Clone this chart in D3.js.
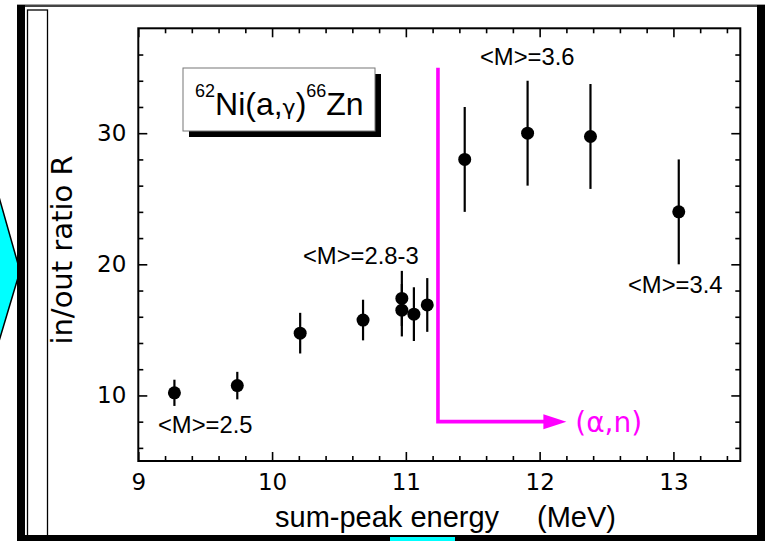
<!DOCTYPE html>
<html><head><meta charset="utf-8">
<script src="https://cdn.jsdelivr.net/npm/d3@7"></script>
<style>body{margin:0;background:#fff;} svg{display:block;}</style>
</head><body>
<svg id="c" width="765" height="541"></svg>
<script>
// ---- data ----
const energy   = [9.27, 9.74, 10.21, 10.68, 10.97, 10.97, 11.06, 11.16, 11.44, 11.91, 12.38, 13.04];
const ratio    = [10.2, 10.75, 14.75, 15.75, 17.4, 16.5, 16.2, 16.9, 28.0, 30.0, 29.75, 24.0];
const ratioErr = [1.0, 1.05, 1.55, 1.55, 2.1, 2.0, 2.05, 2.05, 4.0, 4.0, 4.0, 4.0];

const xMajorTicks = [9, 10, 11, 12, 13];
const xMinorTicks = [9.2, 9.4, 9.6, 9.8, 10.2, 10.4, 10.6, 10.8, 11.2, 11.4, 11.6, 11.8, 12.2, 12.4, 12.6, 12.8, 13.2, 13.4];
const yMajorTicks = [10, 20, 30];
const yMinorTicks = [6, 8, 12, 14, 16, 18, 22, 24, 26, 28, 32, 34, 36];

const multLabels = ["<M>=2.5", "<M>=2.8-3", "<M>=3.6", "<M>=3.4"];
const multE      = [9.147, 10.231, 11.554, 12.66];
const multR      = [7.17, 20.03, 35.2, 17.81];

const thresholdE = [11.24, 11.24, 12.2];
const thresholdR = [35, 8, 8];

// ---- drawing ----
const svg = d3.select("#c");
const L = 138.3, R = 740.3, T = 28.3, B = 461;
const x = d3.scaleLinear().domain([9, 13.5]).range([L, R]);
const y = d3.scaleLinear().domain([5, 38]).range([B, T]);
const SANS = "Liberation Sans, Arial, Helvetica";

// decorations around the figure
svg.append("polygon").attr("points", "-3,190 20,271 -3,348")
  .attr("fill", "#00ffff").attr("stroke", "#000").attr("stroke-width", 1.5);
svg.append("rect").attr("x", 17).attr("y", 4.5).attr("width", 748).attr("height", 2.5).attr("fill", "#444");
svg.append("rect").attr("x", 17).attr("y", 5).attr("width", 8).attr("height", 536).attr("fill", "#000");
svg.append("rect").attr("x", 757).attr("y", 5).attr("width", 8).attr("height", 536).attr("fill", "#000");
svg.append("rect").attr("x", 17).attr("y", 535).attr("width", 748).attr("height", 6).attr("fill", "#000");
svg.append("rect").attr("x", 27.5).attr("y", 10).attr("width", 20).attr("height", 526)
  .attr("fill", "none").attr("stroke", "#000").attr("stroke-width", 1.3);
svg.append("rect").attr("x", 390).attr("y", 537).attr("width", 65).attr("height", 4).attr("fill", "#00ffff");

// axes
function styleAxis(g) {
  g.select(".domain").remove();
  g.selectAll(".tick line").attr("stroke", "#000").attr("stroke-width", 1.6);
  g.selectAll(".tick text").attr("font-family", "DejaVu Sans").attr("font-size", 23).attr("fill", "#000");
}
const fmt = d3.format("d");
svg.append("g").attr("transform", `translate(0,${B})`)
  .call(d3.axisBottom(x).tickValues(xMajorTicks).tickSize(-9).tickSizeOuter(0).tickPadding(13).tickFormat(fmt)).call(styleAxis);
svg.append("g").attr("transform", `translate(0,${B})`)
  .call(d3.axisBottom(x).tickValues(xMinorTicks).tickSize(-5).tickSizeOuter(0).tickFormat("")).call(styleAxis);
svg.append("g").attr("transform", `translate(0,${T})`)
  .call(d3.axisTop(x).tickValues(xMajorTicks).tickSize(-9).tickSizeOuter(0).tickFormat("")).call(styleAxis);
svg.append("g").attr("transform", `translate(0,${T})`)
  .call(d3.axisTop(x).tickValues(xMinorTicks).tickSize(-5).tickSizeOuter(0).tickFormat("")).call(styleAxis);
svg.append("g").attr("transform", `translate(${L},0)`)
  .call(d3.axisLeft(y).tickValues(yMajorTicks).tickSize(-9).tickSizeOuter(0).tickPadding(12).tickFormat(fmt)).call(styleAxis);
svg.append("g").attr("transform", `translate(${L},0)`)
  .call(d3.axisLeft(y).tickValues(yMinorTicks).tickSize(-5).tickSizeOuter(0).tickFormat("")).call(styleAxis);
svg.append("g").attr("transform", `translate(${R},0)`)
  .call(d3.axisRight(y).tickValues(yMajorTicks).tickSize(-9).tickSizeOuter(0).tickFormat("")).call(styleAxis);
svg.append("g").attr("transform", `translate(${R},0)`)
  .call(d3.axisRight(y).tickValues(yMinorTicks).tickSize(-5).tickSizeOuter(0).tickFormat("")).call(styleAxis);

svg.append("rect").attr("x", L).attr("y", T).attr("width", R - L).attr("height", B - T)
  .attr("fill", "none").attr("stroke", "#000").attr("stroke-width", 2);

// axis titles
svg.append("text").attr("transform", "translate(72,250) rotate(-90)")
  .attr("text-anchor", "middle").attr("font-family", "DejaVu Sans").attr("font-size", 29)
  .text("in/out ratio R");
svg.append("text").attr("x", 275).attr("y", 527).attr("font-family", SANS).attr("font-size", 29)
  .text("sum-peak energy");
svg.append("text").attr("x", 537).attr("y", 527).attr("font-family", SANS).attr("font-size", 29)
  .text("(MeV)");

// reaction label box
svg.append("rect").attr("x", 189).attr("y", 74).attr("width", 192).attr("height", 63).attr("fill", "#000");
svg.append("rect").attr("x", 183).attr("y", 68).attr("width", 192).attr("height", 63)
  .attr("fill", "#fff").attr("stroke", "#777").attr("stroke-width", 1);
const lt = svg.append("text").attr("x", 195).attr("y", 115).attr("font-family", SANS).attr("fill", "#000");
lt.append("tspan").attr("font-size", 18).attr("dy", -18).text("62");
lt.append("tspan").attr("font-size", 32).attr("dy", 18).text("Ni(a,");
lt.append("tspan").attr("font-size", 22).attr("font-family", "DejaVu Sans").text("γ");
lt.append("tspan").attr("font-size", 32).text(")");
lt.append("tspan").attr("font-size", 18).attr("dy", -18).text("66");
lt.append("tspan").attr("font-size", 32).attr("dy", 18).text("Zn");

// threshold arrow
const magenta = "#ff00ff";
svg.append("path")
  .attr("d", d3.line()([[x(thresholdE[0]), y(thresholdR[0])], [x(thresholdE[1]), y(thresholdR[1])], [x(thresholdE[2]) - 20, y(thresholdR[2])]]))
  .attr("fill", "none").attr("stroke", magenta).attr("stroke-width", 3.6);
{
  const tx = x(thresholdE[2]), ty = y(thresholdR[2]);
  svg.append("polygon").attr("points", `${tx},${ty} ${tx - 23},${ty - 7.5} ${tx - 23},${ty + 7.5}`).attr("fill", magenta);
}
svg.append("text").attr("x", x(12.266)).attr("y", y(7.21)).attr("font-family", "DejaVu Sans").attr("font-size", 28)
  .attr("fill", magenta).text("(α,n)");

// multiplicity labels
svg.selectAll("text.mult").data(multLabels).enter().append("text").attr("class", "mult")
  .attr("x", (d, i) => x(multE[i])).attr("y", (d, i) => y(multR[i]))
  .attr("font-family", SANS).attr("font-size", 23.8).attr("fill", "#000").text(d => d);

// error bars and points
const pts = energy.map((e, i) => ({ e, r: ratio[i], s: ratioErr[i] }));
svg.selectAll("line.err").data(pts).enter().append("line").attr("class", "err")
  .attr("x1", d => x(d.e)).attr("x2", d => x(d.e))
  .attr("y1", d => y(d.r - d.s)).attr("y2", d => y(d.r + d.s))
  .attr("stroke", "#000").attr("stroke-width", 2.2);
svg.selectAll("circle.pt").data(pts).enter().append("circle").attr("class", "pt")
  .attr("cx", d => x(d.e)).attr("cy", d => y(d.r)).attr("r", 6.5).attr("fill", "#000");
</script>
</body></html>
